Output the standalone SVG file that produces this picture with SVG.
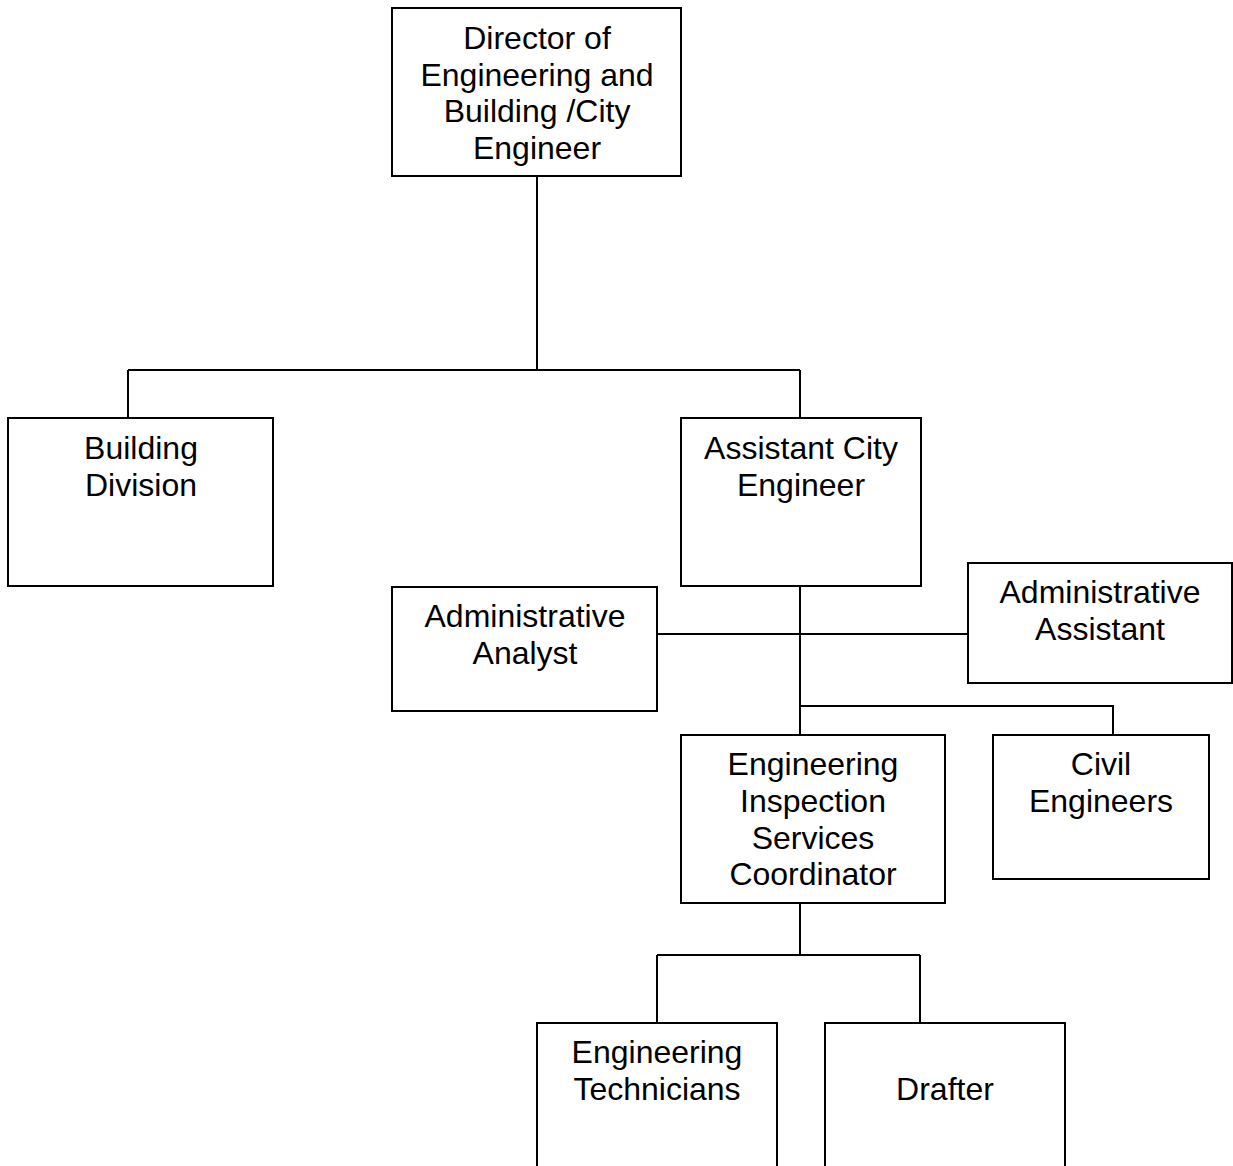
<svg xmlns="http://www.w3.org/2000/svg" width="1233" height="1166" viewBox="0 0 1233 1166">
  <style>
    .box { fill: #ffffff; stroke: #000000; stroke-width: 2; }
    .wire { fill: none; stroke: #000000; stroke-width: 2; }
    .label { font-family: "Liberation Sans", Arial, sans-serif; font-size: 32px; fill: #000000; text-anchor: middle; }
  </style>
  <rect width="1233" height="1166" fill="#ffffff"/>

  <!-- reporting lines -->
  <g id="connectors">
    <path class="wire" d="M537 176 V370 M128 370 H800 M128 370 V418 M800 370 V418"/>
    <path class="wire" d="M800 586 V735 M657 634 H968"/>
    <path class="wire" d="M800 706 H1113 V735"/>
    <path class="wire" d="M800 903 V955 M657 955 H920 M657 955 V1023 M920 955 V1023"/>
  </g>

  <g id="director">
    <rect class="box" x="392" y="8" width="289" height="168"/>
    <text class="label" x="537" y="49">Director of</text>
    <text class="label" x="537" y="85.5">Engineering and</text>
    <text class="label" x="537" y="122">Building /City</text>
    <text class="label" x="537" y="158.5">Engineer</text>
  </g>

  <g id="building-division">
    <rect class="box" x="8" y="418" width="265" height="168"/>
    <text class="label" x="141" y="459">Building</text>
    <text class="label" x="141" y="495.5">Division</text>
  </g>

  <g id="assistant-city-engineer">
    <rect class="box" x="681" y="418" width="240" height="168"/>
    <text class="label" x="801" y="459">Assistant City</text>
    <text class="label" x="801" y="495.5">Engineer</text>
  </g>

  <g id="administrative-analyst">
    <rect class="box" x="392" y="587" width="265" height="124"/>
    <text class="label" x="525" y="627">Administrative</text>
    <text class="label" x="525" y="663.5">Analyst</text>
  </g>

  <g id="administrative-assistant">
    <rect class="box" x="968" y="563" width="264" height="120"/>
    <text class="label" x="1100" y="603">Administrative</text>
    <text class="label" x="1100" y="639.5">Assistant</text>
  </g>

  <g id="inspection-coordinator">
    <rect class="box" x="681" y="735" width="264" height="168"/>
    <text class="label" x="813" y="775">Engineering</text>
    <text class="label" x="813" y="811.5">Inspection</text>
    <text class="label" x="813" y="848.5">Services</text>
    <text class="label" x="813" y="885">Coordinator</text>
  </g>

  <g id="civil-engineers">
    <rect class="box" x="993" y="735" width="216" height="144"/>
    <text class="label" x="1101" y="775">Civil</text>
    <text class="label" x="1101" y="811.5">Engineers</text>
  </g>

  <g id="engineering-technicians">
    <rect class="box" x="537" y="1023" width="240" height="168"/>
    <text class="label" x="657" y="1063">Engineering</text>
    <text class="label" x="657" y="1099.5">Technicians</text>
  </g>

  <g id="drafter">
    <rect class="box" x="825" y="1023" width="240" height="168"/>
    <text class="label" x="945" y="1099.5">Drafter</text>
  </g>
</svg>
